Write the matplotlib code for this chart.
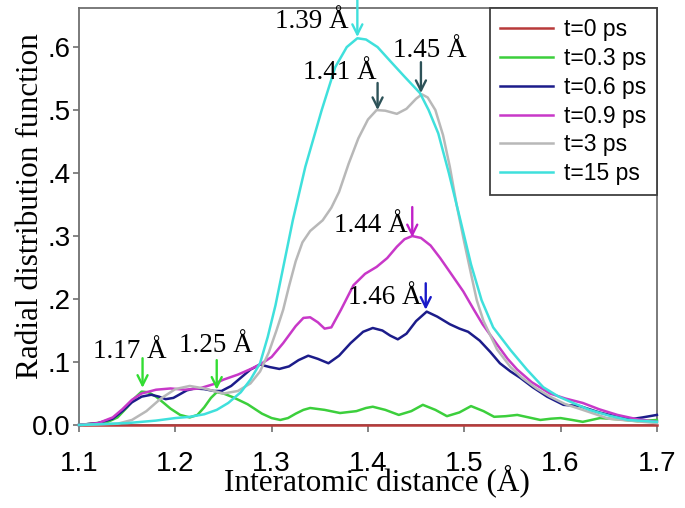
import matplotlib
matplotlib.use("Agg")
import matplotlib.pyplot as plt

# series (x in Angstrom, y = RDF)
labels = ["t=0 ps", "t=0.3 ps", "t=0.6 ps", "t=0.9 ps", "t=3 ps", "t=15 ps"]

x_t0 = [1.10, 1.30, 1.50, 1.70]
y_t0 = [0.0, 0.0, 0.0, 0.0]

x_t03 = [1.10, 1.13, 1.14, 1.15, 1.158, 1.165, 1.172, 1.18, 1.188, 1.195, 1.205, 1.215,
         1.223, 1.23, 1.237, 1.243, 1.25, 1.26, 1.275, 1.29, 1.30, 1.309, 1.317, 1.325,
         1.333, 1.340, 1.355, 1.371, 1.388, 1.398, 1.405, 1.418, 1.432, 1.445, 1.457,
         1.470, 1.482, 1.495, 1.507, 1.52, 1.531, 1.543, 1.555, 1.567, 1.579, 1.59,
         1.600, 1.612, 1.623, 1.632, 1.641, 1.66, 1.68, 1.70]
y_t03 = [0.0, 0.005, 0.012, 0.028, 0.043, 0.053, 0.052, 0.045, 0.035, 0.026, 0.016, 0.012,
         0.016, 0.028, 0.043, 0.052, 0.05, 0.044, 0.033, 0.018, 0.011, 0.008, 0.011, 0.018,
         0.024, 0.027, 0.024, 0.019, 0.022, 0.027, 0.029, 0.024, 0.016, 0.022, 0.032,
         0.024, 0.014, 0.02, 0.03, 0.022, 0.013, 0.014, 0.016, 0.012, 0.008, 0.01,
         0.011, 0.008, 0.005, 0.008, 0.011, 0.009, 0.006, 0.008]

x_t06 = [1.10, 1.12, 1.135, 1.145, 1.155, 1.165, 1.175, 1.183, 1.19, 1.198, 1.205, 1.212,
         1.22, 1.23, 1.24, 1.248, 1.258, 1.268, 1.278, 1.288, 1.298, 1.308, 1.318, 1.328,
         1.338, 1.348, 1.359, 1.37, 1.382, 1.395, 1.405, 1.415, 1.423, 1.431, 1.44, 1.45,
         1.461, 1.472, 1.485, 1.495, 1.504, 1.516, 1.527, 1.537, 1.548, 1.558, 1.571,
         1.586, 1.603, 1.62, 1.64, 1.659, 1.672, 1.685, 1.70]
y_t06 = [0.0, 0.003, 0.01, 0.022, 0.036, 0.045, 0.048, 0.045, 0.041, 0.043, 0.049, 0.055,
         0.058, 0.057, 0.054, 0.054, 0.062, 0.075, 0.088, 0.096, 0.092, 0.089, 0.093, 0.103,
         0.11, 0.105, 0.098, 0.11, 0.13, 0.148, 0.154, 0.15, 0.142, 0.136, 0.145, 0.165,
         0.18, 0.172, 0.16, 0.153, 0.148, 0.134, 0.116, 0.098, 0.085, 0.075, 0.06,
         0.045, 0.032, 0.03, 0.02, 0.013, 0.009, 0.012, 0.016]

x_t09 = [1.10, 1.12, 1.135, 1.145, 1.155, 1.165, 1.18, 1.195, 1.21, 1.225, 1.24, 1.25,
         1.265, 1.28, 1.29, 1.30, 1.312, 1.325, 1.333, 1.34, 1.348, 1.355, 1.362, 1.372,
         1.385, 1.397, 1.409, 1.42, 1.43, 1.438, 1.446, 1.455, 1.465, 1.475, 1.485, 1.499,
         1.51, 1.519, 1.534, 1.545, 1.555, 1.57, 1.589, 1.605, 1.623, 1.64, 1.659, 1.68, 1.70]
y_t09 = [0.0, 0.003, 0.012, 0.025, 0.04, 0.05, 0.056, 0.058, 0.056, 0.058, 0.065, 0.072,
         0.08, 0.09, 0.098, 0.108, 0.13, 0.157, 0.17, 0.171, 0.163, 0.153, 0.155, 0.183,
         0.222, 0.24, 0.251, 0.265, 0.283, 0.295, 0.30, 0.297, 0.285, 0.265, 0.243, 0.212,
         0.183, 0.16, 0.128, 0.105, 0.088, 0.068, 0.05, 0.042, 0.035, 0.025, 0.016, 0.009, 0.005]

x_t3 = [1.10, 1.14, 1.155, 1.17, 1.185, 1.20, 1.215, 1.23, 1.25, 1.265, 1.278, 1.288,
        1.297, 1.305, 1.312, 1.318, 1.325, 1.332, 1.34, 1.353, 1.362, 1.37, 1.38, 1.39,
        1.40, 1.409, 1.418, 1.43, 1.44, 1.45, 1.456, 1.462, 1.47, 1.478, 1.485, 1.492,
        1.50, 1.507, 1.513, 1.52, 1.534, 1.548, 1.56, 1.575, 1.589, 1.605, 1.623, 1.65, 1.70]
y_t3 = [0.0, 0.002, 0.008, 0.022, 0.042, 0.057, 0.062, 0.058, 0.05, 0.054, 0.066, 0.085,
        0.115, 0.15, 0.183, 0.22, 0.26, 0.29, 0.308, 0.325, 0.345, 0.37, 0.415, 0.455,
        0.485, 0.5, 0.499, 0.494, 0.502, 0.518, 0.525, 0.52, 0.5, 0.46, 0.41, 0.35,
        0.29, 0.24, 0.198, 0.165, 0.12, 0.092, 0.075, 0.058, 0.045, 0.033, 0.024, 0.01, 0.003]

x_t15 = [1.10, 1.15, 1.18, 1.20, 1.215, 1.23, 1.243, 1.255, 1.268, 1.278, 1.288, 1.296,
         1.304, 1.312, 1.322, 1.335, 1.352, 1.366, 1.378, 1.389, 1.398, 1.41, 1.423, 1.438,
         1.454, 1.463, 1.473, 1.484, 1.496, 1.507, 1.518, 1.53, 1.548, 1.565, 1.582, 1.598,
         1.613, 1.63, 1.65, 1.67, 1.70]
y_t15 = [0.0, 0.003, 0.007, 0.011, 0.013, 0.017, 0.024, 0.035, 0.052, 0.072, 0.098, 0.14,
         0.19, 0.25, 0.325, 0.41, 0.5, 0.568, 0.6, 0.614, 0.612, 0.6, 0.578, 0.553,
         0.527, 0.5, 0.463, 0.4, 0.325, 0.255, 0.198, 0.155, 0.119, 0.088, 0.06, 0.045,
         0.035, 0.024, 0.015, 0.008, 0.005]

# peak labels: text, arrow x, arrow tip y, arrow tail y, text x, text y
peak_text = ["1.17 Å", "1.25 Å", "1.39 Å", "1.41 Å", "1.45 Å", "1.44 Å", "1.46 Å"]
peak_x = [1.166, 1.243, 1.389, 1.410, 1.455, 1.446, 1.460]
peak_tip = [0.059, 0.056, 0.616, 0.500, 0.527, 0.298, 0.183]
peak_tail = [0.106, 0.103, 0.675, 0.543, 0.576, 0.346, 0.225]
label_x = [1.153, 1.242, 1.342, 1.371, 1.4645, 1.403, 1.418]
label_y = [0.117, 0.127, 0.641, 0.559, 0.594, 0.316, 0.203]

colors = ["#b83a3a", "#3ccf3c", "#1c1c8a", "#c838c8", "#b8b8b8", "#3fe0dc"]
arrow_colors = ["#33dd33", "#33dd33", "#3fe0dc", "#2d5258", "#2d5258", "#c020c8", "#1818c8"]

serif = ["Liberation Serif", "DejaVu Serif"]
sans = ["Liberation Sans", "DejaVu Sans"]

fig = plt.figure(figsize=(6.85, 5.08), dpi=100)
ax = fig.add_axes([0.1153, 0.1634, 0.8437, 0.8208])

series = [(x_t0, y_t0), (x_t03, y_t03), (x_t06, y_t06), (x_t09, y_t09), (x_t3, y_t3), (x_t15, y_t15)]
for (xs, ys), lab, c in zip(series, labels, colors):
    ax.plot(xs, ys, color=c, lw=1.8, label=lab, zorder=3, clip_on=False,
            solid_joinstyle="round")

for t, px, tip, tail, tx, ty, c in zip(peak_text, peak_x, peak_tip, peak_tail,
                                       label_x, label_y, arrow_colors):
    ax.annotate("", xy=(px, tip), xytext=(px, tail), annotation_clip=False,
                arrowprops=dict(arrowstyle="->", color=c, lw=1.7,
                                mutation_scale=18, shrinkA=0, shrinkB=0), zorder=5)
    ax.text(tx, ty, t, ha="center", va="center", fontsize=19.5, family=serif, zorder=6)

ax.set_xlim(1.1, 1.7)
ax.set_ylim(0, 0.662)
ax.set_xticks([1.1, 1.2, 1.3, 1.4, 1.5, 1.6, 1.7])
ax.set_xticklabels(["1.1", "1.2", "1.3", "1.4", "1.5", "1.6", "1.7"])
ax.set_yticks([0, 0.1, 0.2, 0.3, 0.4, 0.5, 0.6])
ax.set_yticklabels(["0.0", ".1", ".2", ".3", ".4", ".5", ".6"])
for lbl in ax.get_xticklabels() + ax.get_yticklabels():
    lbl.set_family(sans)
ax.tick_params(axis="x", labelsize=20, length=5, width=1.2, color="#707070", pad=14)
ax.tick_params(axis="y", labelsize=20, length=4, width=1.2, color="#707070", pad=2)
for sp in ax.spines.values():
    sp.set_color("#707070")
    sp.set_linewidth(1.3)

ax.set_xlabel("Interatomic distance (Å)", fontsize=22.5, family=serif)
ax.set_ylabel("Radial distribution function", fontsize=22.5, family=serif)
ax.xaxis.set_label_coords(0.516, -0.095)
ax.yaxis.set_label_coords(-0.058, 0.525)

leg = ax.legend(loc="upper right", bbox_to_anchor=(1.0, 1.0), borderaxespad=0,
                fancybox=False, framealpha=1, edgecolor="#404040",
                prop={"family": sans, "size": 16.5}, handlelength=2.3,
                handletextpad=0.5, labelspacing=0.25, borderpad=0.45)
leg.get_frame().set_linewidth(1.3)
leg.set_zorder(10)

fig.savefig("out.png", dpi=100)
